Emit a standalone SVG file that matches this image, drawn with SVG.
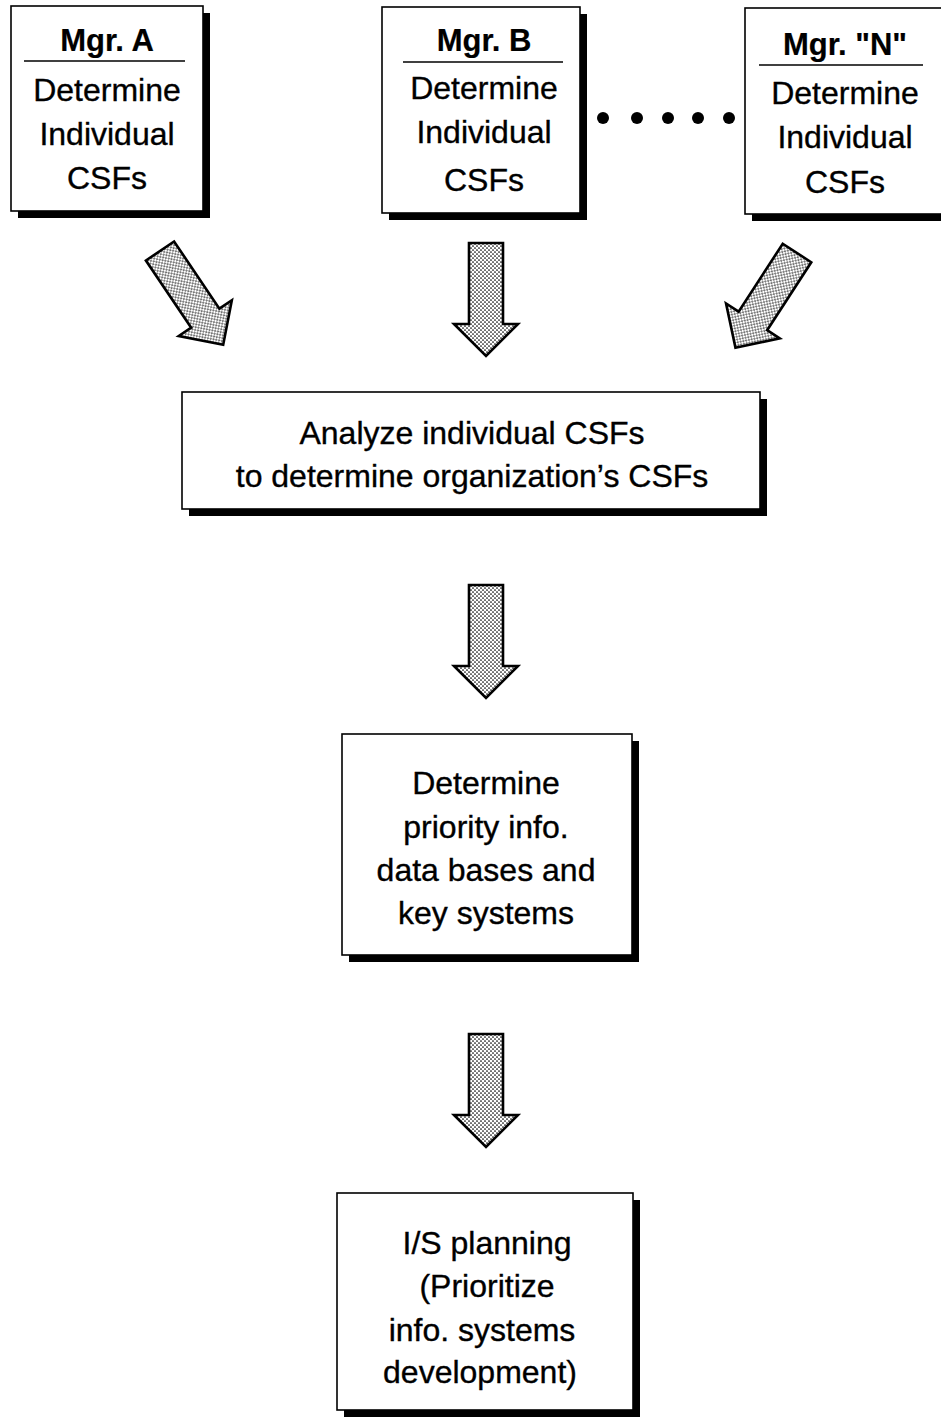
<svg xmlns="http://www.w3.org/2000/svg" width="941" height="1420" viewBox="0 0 941 1420">
  <defs>
    <!-- stippled halftone fill for the block arrows -->
    <pattern id="stipple" width="4" height="4" patternUnits="userSpaceOnUse">
      <rect width="4" height="4" fill="#ffffff"/>
      <circle cx="1" cy="1" r="0.85" fill="#000"/>
      <circle cx="3" cy="3" r="0.85" fill="#000"/>
    </pattern>
    <!-- block arrow pointing down, tail centre at origin -->
    <path id="blockArrow" d="M -17,0 L 17,0 L 17,81 L 32,81 L 0,113 L -32,81 L -17,81 Z"/>
  </defs>
  <style>
    .box { fill: #ffffff; stroke: #000; stroke-width: 1.6; }
    .shadow { fill: #000; }
    .rule { stroke: #000; stroke-width: 1.6; }
    .txt { font-family: "Liberation Sans", Arial, sans-serif; font-size: 32px; fill: #000; stroke: #000; stroke-width: 0.35; text-anchor: middle; }
    .title { font-weight: bold; font-size: 31px; stroke-width: 0.2; }
    .arrow { fill: url(#stipple); stroke: #000; stroke-width: 2.6; stroke-linejoin: miter; }
    .dot { fill: #000; }
  </style>

  <rect width="941" height="1420" fill="#ffffff"/>

  <!-- connectors -->
  <g id="connectors">
    <use href="#blockArrow" class="arrow" transform="translate(160,251) rotate(-34)"/>
    <use href="#blockArrow" class="arrow" transform="translate(486,243)"/>
    <use href="#blockArrow" class="arrow" transform="translate(797,253) rotate(33)"/>
    <use href="#blockArrow" class="arrow" transform="translate(486,585)"/>
    <use href="#blockArrow" class="arrow" transform="translate(486,1034)"/>
  </g>

  <!-- ellipsis between manager B and manager N -->
  <g id="ellipsis">
    <circle class="dot" cx="603" cy="118" r="6"/>
    <circle class="dot" cx="637" cy="118" r="6"/>
    <circle class="dot" cx="668" cy="118" r="6"/>
    <circle class="dot" cx="698" cy="118" r="6"/>
    <circle class="dot" cx="729" cy="118" r="6"/>
  </g>

  <g id="mgrA">
    <rect class="shadow" x="18" y="13" width="192" height="205"/>
    <rect class="box" x="11" y="6" width="192" height="205"/>
    <text class="txt title" x="107" y="51">Mgr. A</text>
    <line class="rule" x1="24" y1="61" x2="185" y2="61"/>
    <text class="txt" x="107" y="101">Determine</text>
    <text class="txt" x="107" y="145">Individual</text>
    <text class="txt" x="107" y="189">CSFs</text>
  </g>

  <g id="mgrB">
    <rect class="shadow" x="389" y="14" width="198" height="206"/>
    <rect class="box" x="382" y="7" width="198" height="206"/>
    <text class="txt title" x="484" y="51">Mgr. B</text>
    <line class="rule" x1="403" y1="62" x2="563" y2="62"/>
    <text class="txt" x="484" y="99">Determine</text>
    <text class="txt" x="484" y="143">Individual</text>
    <text class="txt" x="484" y="191">CSFs</text>
  </g>

  <g id="mgrN">
    <rect class="shadow" x="752" y="15" width="205" height="206"/>
    <rect class="box" x="745" y="8" width="205" height="206"/>
    <text class="txt title" x="845" y="55">Mgr. "N"</text>
    <line class="rule" x1="759" y1="65" x2="923" y2="65"/>
    <text class="txt" x="845" y="104">Determine</text>
    <text class="txt" x="845" y="148">Individual</text>
    <text class="txt" x="845" y="193">CSFs</text>
  </g>

  <g id="analyze">
    <rect class="shadow" x="189" y="399" width="578" height="117"/>
    <rect class="box" x="182" y="392" width="578" height="117"/>
    <text class="txt" x="472" y="444">Analyze individual CSFs</text>
    <text class="txt" x="472" y="487">to determine organization’s CSFs</text>
  </g>

  <g id="priority">
    <rect class="shadow" x="349" y="741" width="290" height="221"/>
    <rect class="box" x="342" y="734" width="290" height="221"/>
    <text class="txt" x="486" y="794">Determine</text>
    <text class="txt" x="486" y="838">priority info.</text>
    <text class="txt" x="486" y="881">data bases and</text>
    <text class="txt" x="486" y="924">key systems</text>
  </g>

  <g id="planning">
    <rect class="shadow" x="344" y="1200" width="296" height="217"/>
    <rect class="box" x="337" y="1193" width="296" height="217"/>
    <text class="txt" x="487" y="1254">I/S planning</text>
    <text class="txt" x="487" y="1297">(Prioritize</text>
    <text class="txt" x="482" y="1341">info. systems</text>
    <text class="txt" x="480" y="1383">development)</text>
  </g>
</svg>
